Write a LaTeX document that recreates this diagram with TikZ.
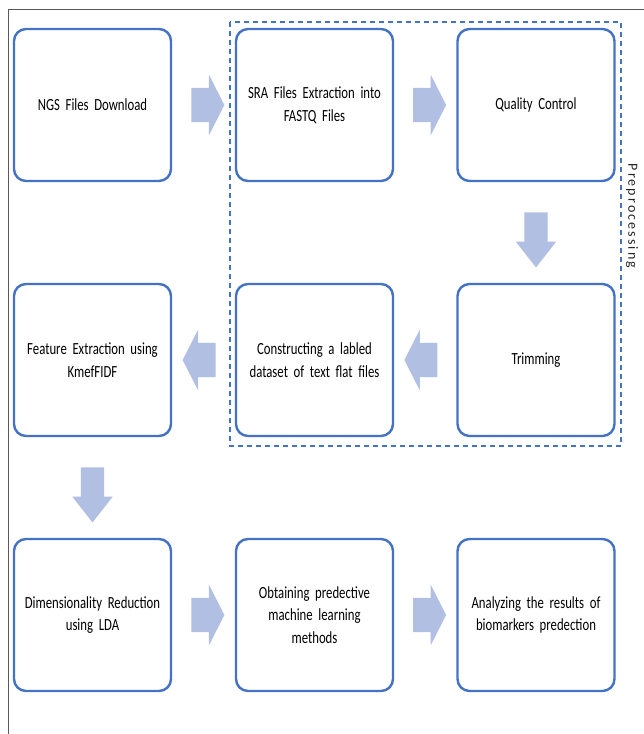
\documentclass[tikz,border=0pt]{standalone}
\usepackage{fontspec}
\setmainfont[FakeStretch=0.75]{Carlito}
\newfontfamily\sidefont[LetterSpace=15]{Carlito}
\usetikzlibrary{shapes.arrows,calc}
\definecolor{boxblue}{RGB}{68,114,196}
\definecolor{arrowblue}{RGB}{176,191,226}
\newcommand\boxfont{\fontsize{17}{22.5}\selectfont\fontdimen2\font=2.6pt\fontdimen3\font=0pt\fontdimen4\font=0pt}

\begin{document}
\begin{tikzpicture}[x=1pt,y=-1pt,
    stepbox/.style={draw=boxblue, line width=2.4pt, rounded corners=12pt, fill=white,
        minimum width=157pt, minimum height=152pt, text width=150pt, align=center,
        font=\boxfont},
    blockarrow/.style={single arrow, fill=arrowblue, draw=none, inner sep=0pt,
        inner ysep=17pt, minimum height=33pt, single arrow head extend=13pt,
        single arrow tip angle=126},
    downarrow/.style={single arrow, fill=arrowblue, draw=none, inner sep=0pt,
        inner ysep=11.5pt, minimum height=55pt, single arrow head extend=8.5pt,
        single arrow tip angle=76, rotate=-90}]
    \useasboundingbox (0,0) rectangle (644,734);

    % Rahmen
    \draw[gray!70!black, line width=0.9pt] (644,9) -- (8,9) -- (8,734);

    % Preprocessing
    \draw[boxblue, line width=1.4pt, dash pattern=on 5pt off 4pt] (230,22) rectangle (621,446);
    \node[rotate=-90, font=\sidefont\fontsize{14}{16}\selectfont, text=black!85] (pre) at (632,216) {Preprocessing};

    % Schritte
    \node[stepbox] (ngs) at (92.5,105) {NGS Files Download};
    \node[stepbox] (sra) at (314.5,105) {SRA Files Extraction into\\FASTQ Files};
    \node[stepbox] (qc) at (536,105) {Quality Control};
    \node[stepbox] (trim) at (536,360) {Trimming};
    \node[stepbox] (cons) at (314.5,360) {Constructing a labled\\dataset of text flat files};
    \node[stepbox] (feat) at (92.5,360) {Feature Extraction using\\KmefFIDF};
    \node[stepbox] (dim) at (92.5,615) {Dimensionality Reduction\\using LDA};
    \node[stepbox] (ml) at (314.5,615) {Obtaining predective\\machine learning\\methods};
    \node[stepbox] (res) at (536,615) {Analyzing the results of\\biomarkers predection};

    % Pfeile
    \node[blockarrow] (a1) at ($(ngs.east)!0.5!(sra.west)$) {};
    \node[blockarrow] (a2) at ($(sra.east)!0.5!(qc.west)$) {};
    \node[downarrow] (a3) at ($(qc.south)!0.5!(trim.north)$) {};
    \node[blockarrow, rotate=180] (a4) at ($(trim.west)!0.5!(cons.east)$) {};
    \node[blockarrow, rotate=180] (a5) at ($(cons.west)!0.5!(feat.east)$) {};
    \node[downarrow] (a6) at ($(feat.south)!0.5!(dim.north)$) {};
    \node[blockarrow] (a7) at ($(dim.east)!0.5!(ml.west)$) {};
    \node[blockarrow] (a8) at ($(ml.east)!0.5!(res.west)$) {};
\end{tikzpicture}
\end{document}
